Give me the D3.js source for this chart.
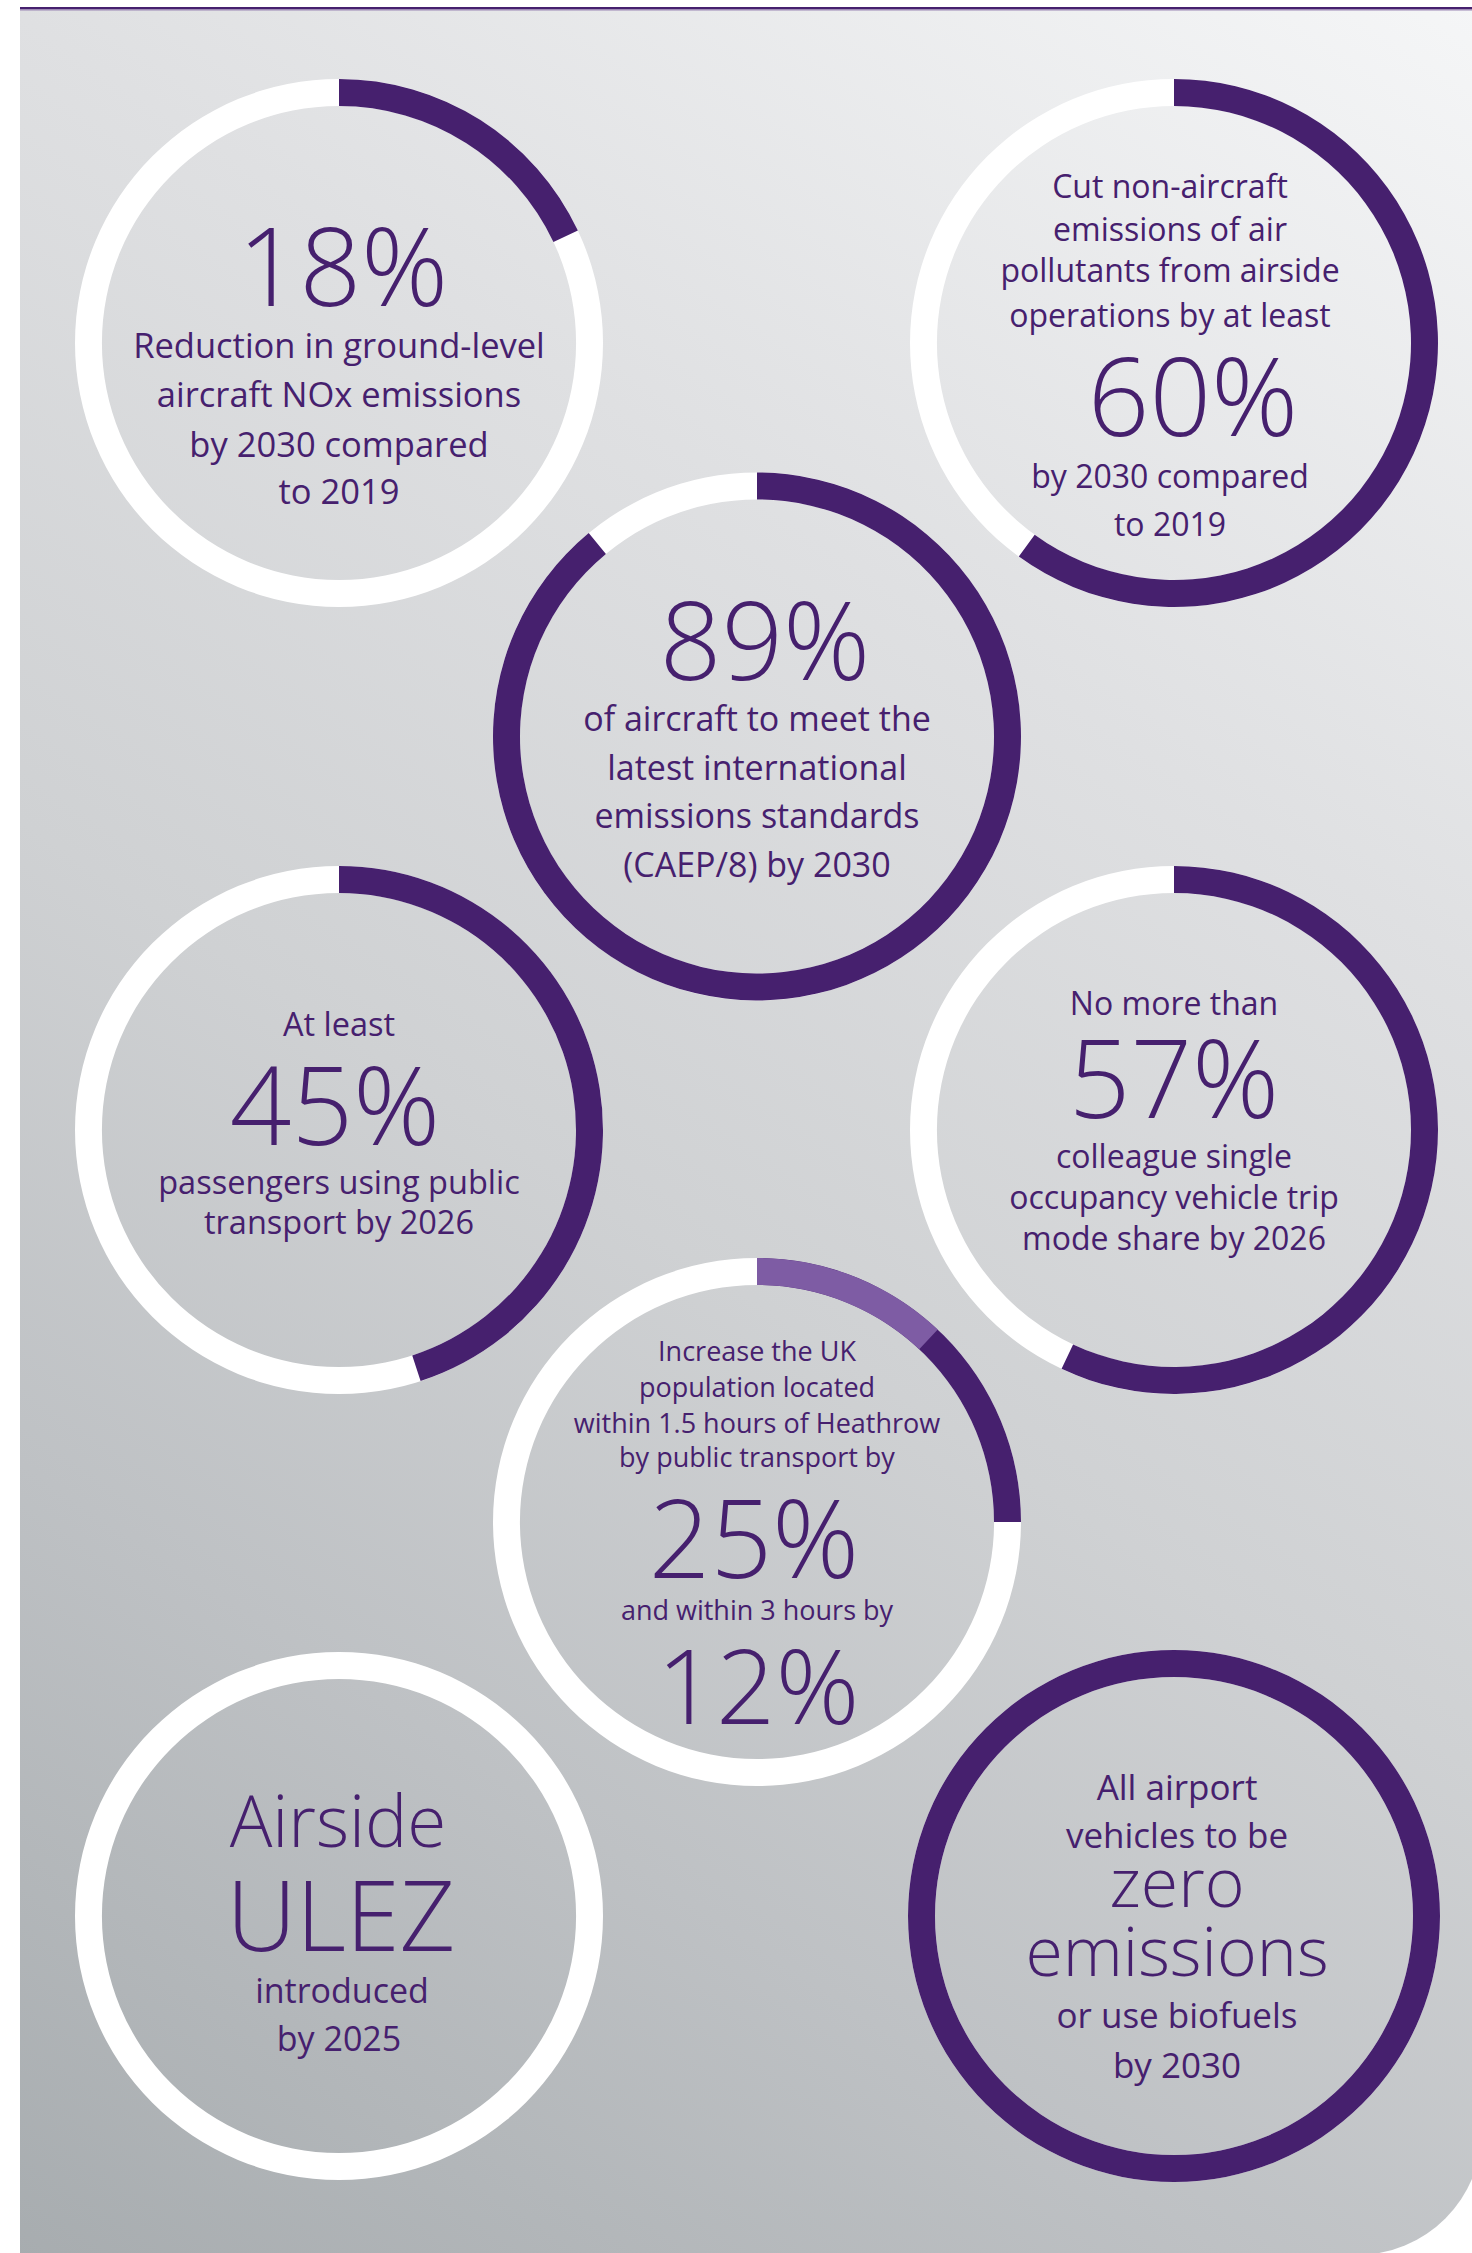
<!DOCTYPE html>
<html>
<head>
<meta charset="utf-8">
<script src="https://cdn.jsdelivr.net/npm/d3@7"></script>
<style>
  html, body { margin: 0; padding: 0; background: #ffffff; }
  svg { display: block; }
</style>
</head>
<body>
<script>
// ---- Targets: share of each ring that is filled (percent) ----
const goals = ["nox", "airsideOps", "caep", "publicTransport", "singleOccupancy", "catchment", "ulez", "vehicles"];
const targetPct = [18, 60, 89, 45, 57, 25, 0, 100];
// catchment ring: within 1.5 hours (25%) and within 3 hours (12%)
const catchmentPct = [25, 12];

// ---- Ring captions (a number entry k prints value k of that ring) ----
const noxText = [0, "Reduction in ground-level", "aircraft NOx emissions", "by 2030 compared", "to 2019"];
const airsideText = ["Cut non-aircraft", "emissions of air", "pollutants from airside", "operations by at least", 0, "by 2030 compared", "to 2019"];
const caepText = [0, "of aircraft to meet the", "latest international", "emissions standards", "(CAEP/8) by 2030"];
const transitText = ["At least", 0, "passengers using public", "transport by 2026"];
const occupancyText = ["No more than", 0, "colleague single", "occupancy vehicle trip", "mode share by 2026"];
const catchmentText = ["Increase the UK", "population located", "within 1.5 hours of Heathrow", "by public transport by", 0, "and within 3 hours by", 1];
const ulezText = ["Airside", "ULEZ", "introduced", "by 2025"];
const vehiclesText = ["All airport", "vehicles to be", "zero", "emissions", "or use biofuels", "by 2030"];

// ---- Page & styling ----
const W = 1472, H = 2253;
const PURPLE = "#46206e", LILAC = "#7e5ca4", RING_BG = "#ffffff";
const FONT = "'Open Sans', 'Noto Sans', sans-serif";
const NUM = 108; // size of the headline figures

const colX = { left: 339, mid: 757, right: 1174 };
const rowY = [343, 736.5, 1130, 1522, 1916];

// line entries: [baseline offset from ring centre, font size, weight, x offset]
const layout = {
  nox:             { cx: colX.left,  cy: rowY[0], r: [237, 264], text: noxText, values: [targetPct[0]],
                     lines: [[-36.6, NUM, 300, 4], [14.9, 34.5], [64.1, 34.5], [114.1, 34.5], [161.3, 34.5]] },
  airsideOps:      { cx: colX.right, cy: rowY[0], r: [237, 264], text: airsideText, values: [targetPct[1]],
                     lines: [[-144.8, 32, 400, -4], [-101.9, 32, 400, -4], [-60.9, 32, 400, -4], [-16.2, 32, 400, -4],
                             [92.7, NUM, 300, 19], [144.5, 32, 400, -4], [192.7, 32, 400, -4]] },
  caep:            { cx: colX.mid,   cy: rowY[1], r: [237, 264], text: caepText, values: [targetPct[2]],
                     lines: [[-56.9, NUM, 300, 8], [-5.1, 34], [43.1, 34], [91.4, 34], [140.6, 34]] },
  publicTransport: { cx: colX.left,  cy: rowY[2], r: [237, 264], text: transitText, values: [targetPct[3]],
                     lines: [[-94.3, 32.5], [14.6, NUM, 300, -4], [63.6, 32.5], [103.9, 32.5]] },
  singleOccupancy: { cx: colX.right, cy: rowY[2], r: [237, 264], text: occupancyText, values: [targetPct[4]],
                     lines: [[-115, 32], [-12.1, NUM, 300], [37.9, 32], [78.9, 32], [120, 32]] },
  catchment:       { cx: colX.mid,   cy: rowY[3], r: [237, 264], text: catchmentText, values: catchmentPct,
                     lines: [[-160.6, 27], [-124.9, 27], [-89.1, 27], [-55.2, 27],
                             [55.5, NUM, 300, -3], [98.4, 27], [201.9, 104, 300, 1]] },
  ulez:            { cx: colX.left,  cy: rowY[4], r: [237, 264], text: ulezText, values: [],
                     lines: [[-69.2, 71, 300, -1], [35.4, 97, 300, 2], [86.5, 34, 400, 3], [135.4, 34]] },
  vehicles:        { cx: colX.right, cy: rowY[4], r: [239, 266], text: vehiclesText, values: [],
                     lines: [[-116.4, 35, 400, 3], [-68.1, 35, 400, 3], [-9.2, 68, 300, 3], [60.4, 68, 300, 3],
                             [112.2, 35, 400, 3], [162.2, 35, 400, 3]] }
};

const svg = d3.select("body").append("svg")
  .attr("width", W).attr("height", H)
  .attr("viewBox", `0 0 ${W} ${H}`);

// background panel with a soft diagonal grey gradient
const defs = svg.append("defs");
const grad = defs.append("linearGradient")
  .attr("id", "panelGrad")
  .attr("gradientUnits", "userSpaceOnUse")
  .attr("x1", W).attr("y1", 0).attr("x2", 0).attr("y2", H);
[[0, "#f5f6f7"], [0.3, "#dfe0e2"], [0.55, "#cfd1d3"], [0.75, "#bec1c4"], [1, "#a7acaf"]]
  .forEach(([o, c]) => grad.append("stop").attr("offset", o).attr("stop-color", c));

const panel = d3.path();
panel.moveTo(20, 10);
panel.lineTo(1482, 10);
panel.lineTo(1482, 2130);
panel.arc(1357, 2130, 125, 0, Math.PI / 2);
panel.lineTo(20, 2255);
panel.closePath();
svg.append("path").attr("d", panel.toString()).attr("fill", "url(#panelGrad)");

// purple rule along the top of the panel
svg.append("rect").attr("x", 20).attr("y", 7).attr("width", W - 20).attr("height", 2.5).attr("fill", PURPLE);
svg.append("rect").attr("x", 20).attr("y", 9.5).attr("width", W - 20).attr("height", 1).attr("fill", "#9a86b4");

// ring geometry
const angle = d3.scaleLinear().domain([0, 100]).range([0, 2 * Math.PI]);

goals.forEach((key, i) => {
  const L = layout[key];
  const arc = d3.arc().innerRadius(L.r[0]).outerRadius(L.r[1]);
  const g = svg.append("g").attr("transform", `translate(${L.cx},${L.cy})`);

  // full white track
  g.append("path").attr("d", arc({ startAngle: 0, endAngle: 2 * Math.PI })).attr("fill", RING_BG);

  // filled share
  if (key === "catchment") {
    g.append("path").attr("d", arc({ startAngle: 0, endAngle: angle(catchmentPct[0]) })).attr("fill", PURPLE);
    g.append("path").attr("d", arc({ startAngle: 0, endAngle: angle(catchmentPct[1]) })).attr("fill", LILAC);
  } else if (targetPct[i] > 0) {
    g.append("path").attr("d", arc({ startAngle: 0, endAngle: angle(targetPct[i]) })).attr("fill", PURPLE);
  }

  // captions
  L.text.forEach((t, j) => {
    const [dy, size, weight, dx] = L.lines[j];
    const label = typeof t === "number" ? `${L.values[t]}%` : t;
    g.append("text")
      .attr("x", dx || 0)
      .attr("y", dy)
      .attr("text-anchor", "middle")
      .attr("font-family", FONT)
      .attr("font-weight", weight || 400)
      .attr("font-size", size)
      .attr("fill", PURPLE)
      .text(label);
  });
});
</script>
</body>
</html>
